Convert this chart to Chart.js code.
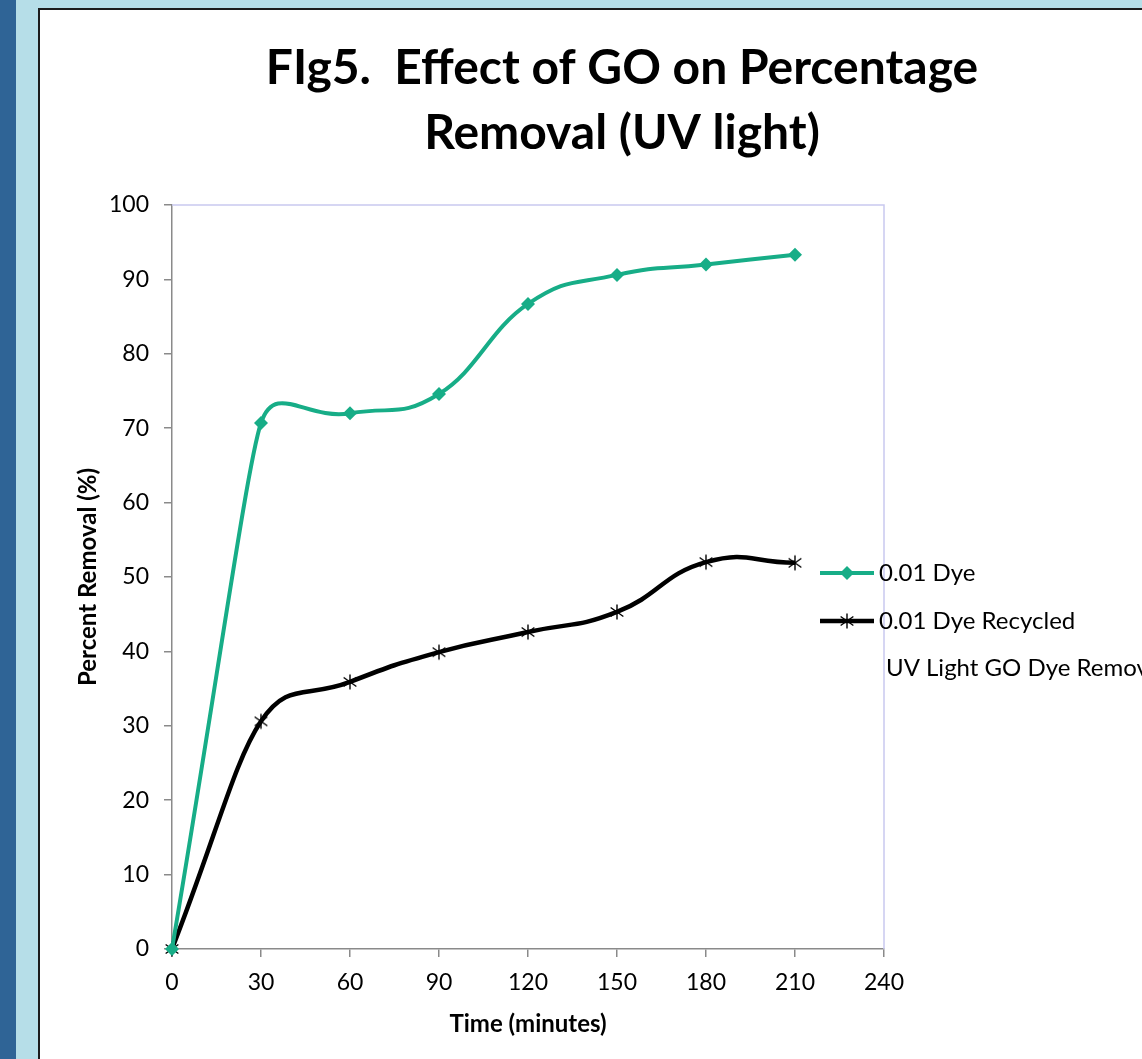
<!DOCTYPE html>
<html>
<head>
<meta charset="utf-8">
<script src="https://cdn.jsdelivr.net/npm/chart.js@4.4.1/dist/chart.umd.min.js"></script>
<style>
  html, body { margin: 0; padding: 0; }
  body { width: 1142px; height: 1059px; overflow: hidden; position: relative; background: #b6dee8; }
  #stripe { position: absolute; left: 0; top: 0; width: 16px; height: 1059px; background: #2f6496; }
  #frame { position: absolute; left: 38px; top: 8px; width: 1200px; height: 1100px; background: #fff;
           border-left: 2px solid #1c1c1c; border-top: 2px solid #1c1c1c; }
  #chart { position: absolute; left: 0; top: 0; }
</style>
</head>
<body>
<div id="stripe"></div>
<div id="frame"><canvas id="chart" width="1164" height="1049"></canvas></div>
<script>
const titleLines = ['FIg5.  Effect of GO on Percentage', 'Removal (UV light)'];
const seriesLabels = ['0.01 Dye', '0.01 Dye Recycled', 'UV Light GO Dye Removal'];
const timeMinutes = [0, 30, 60, 90, 120, 150, 180, 210];
const dyeRemoval = [0, 70.7, 72.0, 74.6, 86.7, 90.6, 92.0, 93.3];
const recycledRemoval = [0, 30.6, 35.9, 39.9, 42.6, 45.3, 52.0, 51.9];
const xTicks = [0, 30, 60, 90, 120, 150, 180, 210, 240];
const yTicks = [0, 10, 20, 30, 40, 50, 60, 70, 80, 90, 100];

const TEAL = '#17ad87';
const AXIS = '#8a8a8a';
const FONT = 'Lato';

// excel style asterisk marker (x plus a vertical bar)
const makeAsterisk = (size) => {
  const c = document.createElement('canvas');
  c.width = size;
  c.height = size;
  const g = c.getContext('2d');
  const m = size / 2, r = size / 2 - 1.5;
  g.strokeStyle = '#000';
  g.lineWidth = 1.4;
  g.beginPath();
  g.moveTo(m, m - r); g.lineTo(m, m + r);
  g.moveTo(m - r * 0.85, m - r * 0.6); g.lineTo(m + r * 0.85, m + r * 0.6);
  g.moveTo(m + r * 0.85, m - r * 0.6); g.lineTo(m - r * 0.85, m + r * 0.6);
  g.stroke();
  return c;
};
const asterisk = makeAsterisk(18);

const toPoints = (ys) => timeMinutes.map((t, i) => ({ x: t, y: ys[i] }));

// excel-like smoothing: tangent along neighbours, handle length from the shorter side
const excelSmooth = {
  id: 'excelSmooth',
  beforeDatasetDraw(chart, args) {
    const meta = args.meta;
    const pts = meta.data;
    if (!meta.dataset || pts.length < 2) return;
    meta.dataset.updateControlPoints(chart.chartArea, meta.iAxis);
    const k = 0.5;
    const dist = (a, b) => Math.hypot(b.x - a.x, b.y - a.y);
    pts.forEach((p, i) => {
      const prev = pts[i - 1] || p;
      const next = pts[i + 1] || p;
      const tx = next.x - prev.x, ty = next.y - prev.y;
      const tl = Math.hypot(tx, ty) || 1;
      const dPrev = i > 0 ? dist(prev, p) : Infinity;
      const dNext = i < pts.length - 1 ? dist(p, next) : Infinity;
      const h = k * Math.min(dPrev, dNext);
      p.cp1x = p.x - (tx / tl) * h;
      p.cp1y = p.y - (ty / tl) * h;
      p.cp2x = p.x + (tx / tl) * h;
      p.cp2y = p.y + (ty / tl) * h;
    });
    meta.dataset._path = undefined;
  },
};

// top and right edges of the plot area
const plotFrame = {
  id: 'plotFrame',
  beforeDatasetsDraw(chart) {
    const { ctx, chartArea: a } = chart;
    ctx.save();
    ctx.strokeStyle = '#c9c9ef';
    ctx.lineWidth = 1.5;
    ctx.beginPath();
    ctx.moveTo(a.left, a.top);
    ctx.lineTo(a.right, a.top);
    ctx.lineTo(a.right, a.bottom);
    ctx.stroke();
    ctx.restore();
  },
};

// legend sits over the right edge of the plot, like the original
const floatLegend = {
  id: 'floatLegend',
  afterDraw(chart) {
    const ctx = chart.ctx;
    const x0 = 780, x1 = 834, rows = [563, 611, 658];
    ctx.save();
    ctx.font = '24px ' + FONT;
    ctx.textBaseline = 'middle';
    chart.data.datasets.forEach((ds, i) => {
      const y = rows[i];
      if (ds.borderWidth > 0) {
        ctx.strokeStyle = ds.borderColor;
        ctx.lineWidth = ds.borderWidth;
        ctx.beginPath();
        ctx.moveTo(x0, y);
        ctx.lineTo(x1, y);
        ctx.stroke();
        const mx = (x0 + x1) / 2;
        if (ds.pointStyle === 'rectRot') {
          const r = ds.pointRadius;
          ctx.fillStyle = ds.pointBackgroundColor;
          ctx.beginPath();
          ctx.moveTo(mx, y - r); ctx.lineTo(mx + r, y); ctx.lineTo(mx, y + r); ctx.lineTo(mx - r, y);
          ctx.closePath();
          ctx.fill();
        } else if (ds.pointStyle instanceof HTMLCanvasElement) {
          const img = ds.pointStyle;
          ctx.drawImage(img, mx - img.width / 2, y - img.height / 2);
        }
      }
      ctx.fillStyle = '#000';
      ctx.fillText(ds.label, ds.borderWidth > 0 ? x1 + 5 : x1 + 12, y);
    });
    ctx.restore();
  },
};

new Chart(document.getElementById('chart'), {
  type: 'line',
  data: {
    datasets: [
      {
        label: seriesLabels[0],
        data: toPoints(dyeRemoval),
        borderColor: TEAL,
        borderWidth: 4,
        tension: 0.4,
        clip: false,
        pointStyle: 'rectRot',
        pointRadius: 7,
        pointBackgroundColor: TEAL,
        pointBorderColor: TEAL,
        pointBorderWidth: 0,
      },
      {
        label: seriesLabels[1],
        data: toPoints(recycledRemoval),
        borderColor: '#000',
        borderWidth: 4.5,
        tension: 0.4,
        clip: false,
        pointStyle: asterisk,
        pointRadius: 8,
      },
      {
        label: seriesLabels[2],
        data: [],
        borderWidth: 0,
        pointRadius: 0,
      },
    ],
  },
  options: {
    responsive: false,
    animation: false,
    devicePixelRatio: 1,
    layout: { padding: 0 },
    plugins: {
      legend: { display: false },
      tooltip: { enabled: false },
      title: {
        display: true,
        text: titleLines,
        color: '#000',
        font: { family: FONT, size: 48, weight: 'bold', lineHeight: 1.354 },
        padding: { top: 26, bottom: 39 },
      },
    },
    scales: {
      x: {
        type: 'linear',
        min: xTicks[0],
        max: xTicks[xTicks.length - 1],
        afterBuildTicks: (s) => { s.ticks = xTicks.map((v) => ({ value: v })); },
        afterFit: (s) => { s.height = 110; },
        ticks: { color: '#000', font: { family: FONT, size: 23 }, padding: 12 },
        grid: { drawOnChartArea: false, tickLength: 8, color: AXIS, lineWidth: 1.5 },
        border: { color: AXIS, width: 1.5 },
        title: {
          display: true,
          text: 'Time (minutes)',
          color: '#000',
          font: { family: FONT, size: 24, weight: 'bold' },
          padding: { top: 0, bottom: 20 },
        },
      },
      y: {
        type: 'linear',
        min: yTicks[0],
        max: yTicks[yTicks.length - 1],
        afterBuildTicks: (s) => { s.ticks = yTicks.map((v) => ({ value: v })); },
        afterFit: (s) => { s.width = 132; },
        ticks: { color: '#000', font: { family: FONT, size: 23 }, padding: 15 },
        grid: { drawOnChartArea: false, tickLength: 8, color: AXIS, lineWidth: 1.5 },
        border: { color: AXIS, width: 1.5 },
        title: {
          display: true,
          text: 'Percent Removal (%)',
          color: '#000',
          font: { family: FONT, size: 24, weight: 'bold' },
          padding: { top: 34, bottom: 0 },
        },
      },
      // empty axis that only reserves the space right of the plot
      pad: {
        type: 'linear',
        position: 'right',
        afterFit: (s) => { s.width = 320; },
        ticks: { display: false },
        grid: { display: false, drawTicks: false },
        border: { display: false },
      },
    },
  },
  plugins: [excelSmooth, plotFrame, floatLegend],
});
</script>
</body>
</html>
